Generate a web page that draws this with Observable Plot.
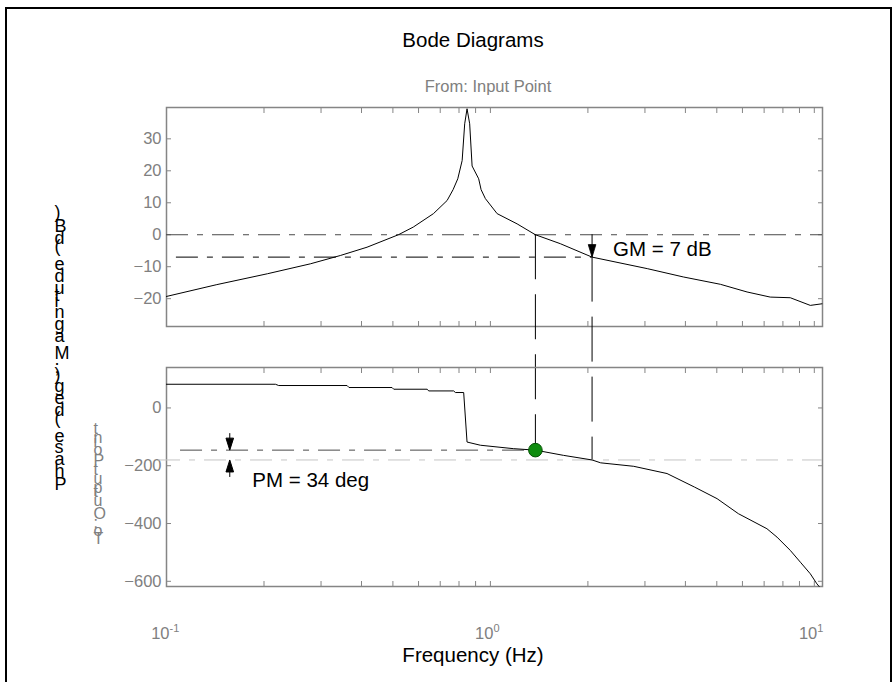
<!DOCTYPE html>
<html>
<head>
<meta charset="utf-8">
<script src="https://cdn.jsdelivr.net/npm/d3@7"></script>
<script src="https://cdn.jsdelivr.net/npm/@observablehq/plot@0.6"></script>
<style>
  body { margin: 0; background: #fff; }
  #fig { position: relative; width: 895px; height: 682px; overflow: hidden;
         font-family: "Liberation Sans", Arial, sans-serif; }
  #fig svg { position: absolute; left: 0; top: 0; }
  #border { position: absolute; left: 5px; top: 7px; width: 883px; height: 700px;
            border: 2px solid #000; }
  .lbl { position: absolute; white-space: nowrap; line-height: 1; transform: translateX(-50%); }
</style>
</head>
<body>
<div id="fig">
  <div id="border"></div>
  <div class="lbl" id="title" style="left:473px;top:30px;font-size:20.5px;color:#000">Bode Diagrams</div>
  <div class="lbl" id="from" style="left:488px;top:78px;font-size:16.5px;color:#808080">From: Input Point</div>
  <div class="lbl" id="xlabel" style="left:473px;top:645px;font-size:20.5px;color:#000">Frequency (Hz)</div>
</div>
<script>
// Open-loop frequency response: magnitude (dB) and phase (deg) against frequency (Hz)
const magFreq = [0.1, 0.143, 0.205, 0.278, 0.344, 0.416, 0.52, 0.578, 0.667, 0.735, 0.767, 0.793,
  0.818, 0.833, 0.847, 0.863, 0.878, 0.92, 0.936, 0.965, 1.049, 1.209, 1.377, 1.644, 2.06, 3.05,
  3.94, 5.13, 6.2, 7.31, 8.43, 9.72, 10.56];
const magDb = [-19.3, -15.6, -12.2, -9.1, -6.5, -3.9, 0, 2.4, 6.6, 10.7, 14.1, 17.5,
  23.2, 34.7, 39.4, 34.7, 21.5, 17.5, 14.1, 11.3, 6.6, 3.4, 0, -2.8, -7, -10.6,
  -13.2, -15.5, -17.9, -19.5, -19.7, -22.1, -21.6];

const phaseFreq = [0.1, 0.217, 0.222, 0.361, 0.366, 0.497, 0.503, 0.638, 0.645, 0.77, 0.78, 0.827,
  0.847, 0.931, 1.18, 1.377, 1.68, 2.06, 2.19, 2.77, 3.51, 4.27, 5.01, 5.83, 7.14, 7.67, 8.43,
  9.06, 9.72, 10.19, 10.35];
const phaseDeg = [82, 82, 77.6, 77.6, 70.7, 70.7, 64.8, 64.8, 58.9, 58.9, 53.4, 53.4,
  -118, -129, -141, -146, -164, -180, -190, -202, -227, -274, -314, -366, -418, -447, -493,
  -534, -574, -609, -618];

// Stability margins
const gainMarginDb = 7;
const phaseMarginDeg = 34;
const gainCrossHz = 1.377;   // |L| = 0 dB
const phaseCrossHz = 2.06;   // arg L = -180 deg

// Axis ticks
const magTicks = [-20, -10, 0, 10, 20, 30];
const phaseTicks = [-600, -400, -200, 0];
const decadeTicks = [0.1, 1, 10];
const decadeExponents = ["-1", "0", "1"];
const freqTicks = [0.1, 0.2, 0.3, 0.4, 0.5, 0.6, 0.7, 0.8, 0.9, 1, 2, 3, 4, 5, 6, 7, 8, 9, 10];

const magLabel = "Phase (deg); Magnitude (dB)";
const ioLabel = "To: Output Point";

// Layout
const W = 895, H = 682;
const marginLeft = 166, marginRight = 73;
const magTop = 107, magBottom = 326;
const phaseTop = 367, phaseBottom = 586;
const freqDomain = [0.1, 10.6];
const magDomain = [-28.7, 39.8];
const phaseDomain = [-618, 140];

const FONT = '"Liberation Sans", Arial, sans-serif';
const GRAY = "#808080";
const FRAME = "#858585";
const DASH = "22,9,6,9";
const VDASH = "45,15";

const mag = magFreq.map((f, i) => ({f, db: magDb[i]}));
const phase = phaseFreq.map((f, i) => ({f, deg: phaseDeg[i]}));
const decades = decadeTicks.map((f, i) => ({f, exp: decadeExponents[i]}));
const pmLevel = -180 + phaseMarginDeg;

// Filled arrowheads whose tip sits on the data point
const headDown = {draw(ctx) { ctx.moveTo(0, 0); ctx.lineTo(-3.8, -12.5); ctx.lineTo(3.8, -12.5); ctx.closePath(); }};
const arrowDown = {draw(ctx) { ctx.moveTo(0, -17); ctx.lineTo(0, -9); ctx.moveTo(0, 0); ctx.lineTo(-3.8, -12); ctx.lineTo(3.8, -12); ctx.closePath(); }};
const arrowUp = {draw(ctx) { ctx.moveTo(0, 17); ctx.lineTo(0, 9); ctx.moveTo(0, 0); ctx.lineTo(-3.8, 12); ctx.lineTo(3.8, 12); ctx.closePath(); }};

const frameAxes = (ticks) => [
  Plot.frame({stroke: FRAME, strokeWidth: 1.5}),
  Plot.axisY(ticks, {anchor: "left", tickSize: -5, tickPadding: 10, label: null, fontSize: 16.5, stroke: FRAME}),
  Plot.axisY(ticks, {anchor: "right", tickSize: -5, tickFormat: () => "", label: null, stroke: FRAME}),
  Plot.axisX(freqTicks, {anchor: "top", tickSize: -5, tickFormat: () => "", label: null, stroke: FRAME}),
  Plot.axisX(freqTicks, {anchor: "bottom", tickSize: -5, tickFormat: () => "", label: null, stroke: FRAME})
];

// Phase panel
const phasePlot = Plot.plot({
  width: W, height: H,
  marginLeft, marginRight, marginTop: phaseTop, marginBottom: H - phaseBottom,
  style: {background: "transparent", overflow: "visible", fontFamily: FONT, fontSize: "16px", color: GRAY},
  x: {type: "log", domain: freqDomain},
  y: {domain: phaseDomain},
  marks: [
    ...frameAxes(phaseTicks),
    // decade labels 10^n : mantissa then raised exponent
    Plot.text(decades, {x: "f", y: phaseDomain[0], dy: 52, dx: 3,
      text: () => "10", textAnchor: "end", lineAnchor: "bottom", fill: GRAY, fontSize: 16.5}),
    Plot.text(decades, {x: "f", y: phaseDomain[0], dy: 45, dx: 3,
      text: "exp", textAnchor: "start", lineAnchor: "bottom", fill: GRAY, fontSize: 11}),
    Plot.ruleY([-180], {x1: 0.0945, x2: freqDomain[1], stroke: "#c4c4c4", strokeDasharray: DASH}),
    Plot.ruleY([pmLevel], {x1: 0.1105, x2: gainCrossHz, stroke: "#4a4a4a", strokeDasharray: DASH}),
    Plot.line(phase, {x: "f", y: "deg", stroke: "#000", strokeWidth: 1}),
    Plot.dot([gainCrossHz], {x: d => d, y: pmLevel, r: 6.8, fill: "#0e8c0e", stroke: "#055205", strokeWidth: 1}),
    Plot.dot([0.1568], {x: d => d, y: pmLevel, symbol: arrowDown, fill: "#000", stroke: "#000", strokeWidth: 1}),
    Plot.dot([0.1568], {x: d => d, y: -180, symbol: arrowUp, fill: "#000", stroke: "#000", strokeWidth: 1}),
    Plot.text([`PM = ${phaseMarginDeg} deg`], {x: 0.1568, y: -180, dx: 22.5, dy: 27,
      textAnchor: "start", lineAnchor: "bottom", fill: "#000", fontSize: 20.5}),
    Plot.text([magLabel], {frameAnchor: "left", dx: 54 - marginLeft, dy: 350 - (phaseTop + phaseBottom) / 2,
      rotate: -90, textAnchor: "middle", lineAnchor: "bottom", fill: "#000", fontSize: 18}),
    Plot.text([ioLabel], {frameAnchor: "left", dx: 93 - marginLeft, dy: 10,
      rotate: -90, textAnchor: "middle", lineAnchor: "bottom", fill: GRAY, fontSize: 16})
  ]
});

const phaseY = phasePlot.scale("y");

// Magnitude panel
const magY = Plot.scale({y: {domain: magDomain, range: [magBottom, magTop]}});
const toMag = (deg) => magY.invert(phaseY.apply(deg));

const magPlot = Plot.plot({
  width: W, height: H,
  marginLeft, marginRight, marginTop: magTop, marginBottom: H - magBottom,
  style: {background: "transparent", overflow: "visible", fontFamily: FONT, fontSize: "16px", color: GRAY},
  x: {type: "log", domain: freqDomain},
  y: {domain: magDomain},
  marks: [
    ...frameAxes(magTicks),
    Plot.ruleY([0], {x1: freqDomain[0], x2: freqDomain[1], stroke: "#4a4a4a", strokeDasharray: DASH}),
    Plot.ruleY([-gainMarginDb], {x1: 0.1073, x2: phaseCrossHz, stroke: "#000", strokeDasharray: DASH}),
    Plot.line(mag, {x: "f", y: "db", stroke: "#000", strokeWidth: 1}),
    Plot.ruleX([gainCrossHz], {y1: 0, y2: toMag(pmLevel), stroke: "#000", strokeDasharray: VDASH}),
    Plot.ruleX([phaseCrossHz], {y1: 0, y2: -gainMarginDb, stroke: "#000"}),
    Plot.ruleX([phaseCrossHz], {y1: -gainMarginDb, y2: toMag(-180), stroke: "#000", strokeDasharray: VDASH}),
    Plot.dot([phaseCrossHz], {x: d => d, y: -gainMarginDb, symbol: headDown, fill: "#000", stroke: "#000", strokeWidth: 0.8}),
    Plot.text([`GM = ${gainMarginDb} dB`], {x: phaseCrossHz, y: -gainMarginDb, dx: 21, dy: -1.5,
      textAnchor: "start", lineAnchor: "bottom", fill: "#000", fontSize: 20.5})
  ]
});

const fig = document.getElementById("fig");
fig.appendChild(magPlot);
fig.appendChild(phasePlot);

// Axis titles are stacked glyph by glyph along a vertical baseline
for (const t of phasePlot.querySelectorAll("text")) {
  if (t.textContent === magLabel) { t.setAttribute("rotate", "90"); t.setAttribute("letter-spacing", "1.8"); }
  if (t.textContent === ioLabel) { t.setAttribute("rotate", "90"); }
}
</script>
</body>
</html>
